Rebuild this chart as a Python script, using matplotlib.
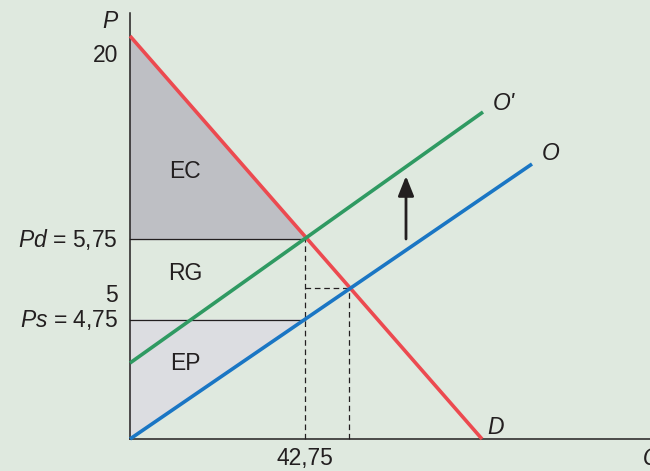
import numpy as np
import matplotlib.pyplot as plt

plt.rcParams['font.family'] = ['Liberation Sans', 'DejaVu Sans']
plt.rcParams['mathtext.fontset'] = 'custom'
plt.rcParams['mathtext.it'] = 'Liberation Sans:italic'
plt.rcParams['mathtext.rm'] = 'Liberation Sans'

# schematic coordinates (chart is not drawn to scale)
demand_x = [0, 352]
demand_y = [403, 0]
supply_x = [0, 402]
supply_y = [0, 275]
supply2_x = [0, 353]
supply2_y = [76, 327]

# key levels: schematic position -> label
pd_y, ps_y, pe_y = 200, 119, 151
q1_x, qe_x = 175, 219
p_ticks = [403, pd_y, pe_y, ps_y]
p_labels = ['20', '$Pd$ = 5,75', '5', '$Ps$ = 4,75']
q_ticks = [q1_x]
q_labels = ['42,75']

bg = '#dfe9df'
red = '#ec4a50'
green = '#2f9a62'
blue = '#1a76c4'
ink = '#231f20'

fig = plt.figure(figsize=(6.5, 4.71), dpi=100)
fig.patch.set_facecolor(bg)
ax = fig.add_axes([0, 0, 1, 1])
ax.set_facecolor(bg)
ax.set_xlim(-130, 520)
ax.set_ylim(-32, 439)
ax.axis('off')

# surplus areas
ax.fill([0, 0, q1_x], [demand_y[0], pd_y, pd_y], color='#bebfc4', zorder=1)
ax.fill([0, q1_x, 0], [ps_y, ps_y, 0], color='#dcdde1', zorder=1)

# axes
ax.plot([0, 0], [0, 426], color=ink, lw=1.1, zorder=3)
ax.plot([0, 520], [0, 0], color=ink, lw=1.1, zorder=3)

# price lines
ax.plot([0, q1_x], [pd_y, pd_y], color=ink, lw=0.9, zorder=2)
ax.plot([0, q1_x], [ps_y, ps_y], color=ink, lw=0.9, zorder=2)
dash = (0, (4.5, 3))
ax.plot([q1_x, q1_x], [0, pd_y], color=ink, lw=0.9, ls=dash, zorder=2)
ax.plot([qe_x, qe_x], [0, pe_y], color=ink, lw=0.9, ls=dash, zorder=2)
ax.plot([q1_x, qe_x], [pe_y, pe_y], color=ink, lw=0.9, ls=dash, zorder=2)

# curves
ax.plot(demand_x, demand_y, color=red, lw=2.6, solid_capstyle='butt', zorder=4)
ax.plot(supply_x, supply_y, color=blue, lw=2.6, solid_capstyle='butt', zorder=4)
ax.plot(supply2_x, supply2_y, color=green, lw=2.6, solid_capstyle='butt', zorder=4)

# shift arrow
ax.annotate('', xy=(276, 263), xytext=(276, 200),
            arrowprops=dict(arrowstyle='-|>,head_length=0.6,head_width=0.24',
                            mutation_scale=20, color=ink, lw=2,
                            shrinkA=0, shrinkB=0), zorder=5)

fs = 16.5
label_off = {'20': -19, '5': -8}
for y, lab in zip(p_ticks, p_labels):
    ax.text(-12, y + label_off.get(lab, 0), lab, ha='right', va='center',
            fontsize=fs, color=ink)
for x, lab in zip(q_ticks, q_labels):
    ax.text(x, -20, lab, ha='center', va='center', fontsize=fs, color=ink)

ax.text(-12, 417, 'P', ha='right', va='center', fontsize=fs, style='italic', color=ink)
ax.text(513, -20, 'Q', ha='left', va='center', fontsize=fs, style='italic', color=ink)
ax.text(357, 12, 'D', ha='left', va='center', fontsize=fs, style='italic', color=ink)
ax.text(363, 336, "O'", ha='left', va='center', fontsize=fs, style='italic', color=ink)
ax.text(412, 286, 'O', ha='left', va='center', fontsize=fs, style='italic', color=ink)

ax.text(55, 267, 'EC', ha='center', va='center', fontsize=fs, color=ink)
ax.text(55, 165, 'RG', ha='center', va='center', fontsize=fs, color=ink)
ax.text(55, 75, 'EP', ha='center', va='center', fontsize=fs, color=ink)

fig.savefig('out.png', dpi=100, facecolor=bg)
